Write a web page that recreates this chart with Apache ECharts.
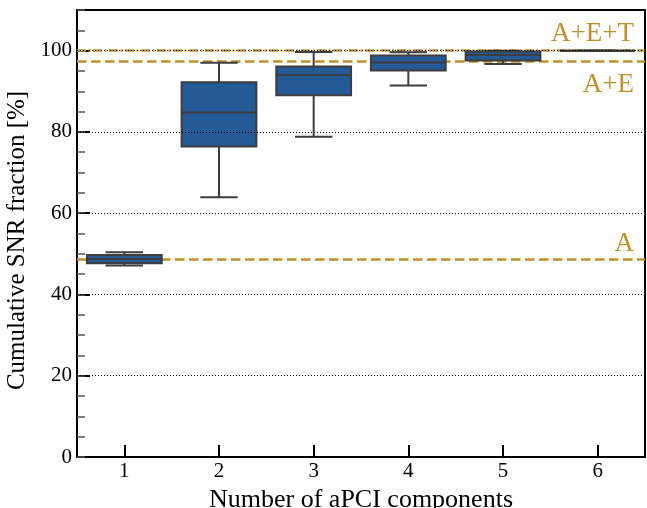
<!DOCTYPE html>
<html>
<head>
<meta charset="utf-8">
<script src="https://cdn.jsdelivr.net/npm/echarts@6/dist/echarts.min.js"></script>
<style>html,body{margin:0;padding:0;background:#fff;}#c{width:647px;height:508px;}</style>
</head>
<body>
<div id="c"></div>
<script>
const categories = ['1', '2', '3', '4', '5', '6'];
const whiskerLow = [47.1, 63.9, 78.8, 91.4, 96.7, 100];
const q1 = [47.7, 76.4, 89.0, 95.1, 97.6, 100];
const median = [48.7, 84.8, 94.0, 97.1, 98.9, 100];
const q3 = [49.7, 92.2, 96.1, 98.8, 99.8, 100];
const whiskerHigh = [50.4, 97.0, 99.65, 99.6, 99.95, 100];
const yTicks = [0, 20, 40, 60, 80, 100];
const refNames = ['A', 'A+E', 'A+E+T'];
const refValues = [48.7, 97.5, 100];

const FONT = '"Liberation Serif", "DejaVu Serif", serif';
const GOLD = '#bf912a';
const BOX_FILL = '#245b97';
const EDGE = '#3d3d3d';

const boxData = categories.map((c, i) => [i, whiskerLow[i], q1[i], median[i], q3[i], whiskerHigh[i]]);

function renderBox(params, api) {
  const x = api.value(0);
  const lo = api.coord([x, api.value(1)]);
  const b1 = api.coord([x, api.value(2)]);
  const md = api.coord([x, api.value(3)]);
  const b3 = api.coord([x, api.value(4)]);
  const hi = api.coord([x, api.value(5)]);
  const band = api.size([1, 0])[0];
  const bw = band * 0.79;
  const cw = bw / 2;
  const cx = lo[0];
  const ls = { stroke: EDGE, lineWidth: 2 };
  return {
    type: 'group',
    children: [
      { type: 'line', shape: { x1: cx, y1: lo[1], x2: cx, y2: b1[1] }, style: ls },
      { type: 'line', shape: { x1: cx, y1: b3[1], x2: cx, y2: hi[1] }, style: ls },
      { type: 'line', shape: { x1: cx - cw / 2, y1: lo[1], x2: cx + cw / 2, y2: lo[1] }, style: ls },
      { type: 'line', shape: { x1: cx - cw / 2, y1: hi[1], x2: cx + cw / 2, y2: hi[1] }, style: ls },
      { type: 'rect', shape: { x: cx - bw / 2, y: b3[1], width: bw, height: b1[1] - b3[1] },
        style: { fill: BOX_FILL, stroke: EDGE, lineWidth: 2 } },
      { type: 'line', shape: { x1: cx - bw / 2, y1: md[1], x2: cx + bw / 2, y2: md[1] }, style: ls }
    ]
  };
}

const labelPos = ['insideEndTop', 'insideEndBottom', 'insideEndTop'];
const labelDist = [[11, 2], [11, 11], [11, 3]];
const lineTypes = [[9.5, 4.5], [9.5, 4.5], [9, 2.5, 2, 2.5]];

const chart = echarts.init(document.getElementById('c'), null, { renderer: 'canvas' });
chart.setOption({
  animation: false,
  backgroundColor: '#fff',
  grid: { left: 77, right: 2, top: 10, bottom: 51, show: true, borderColor: '#000', borderWidth: 2,
    backgroundColor: 'transparent', containLabel: false, outerBoundsMode: 'none' },
  xAxis: {
    type: 'category',
    data: categories,
    boundaryGap: true,
    name: 'Number of aPCI components',
    nameLocation: 'middle',
    nameGap: 30,
    nameTextStyle: { fontFamily: FONT, fontSize: 26, color: '#000' },
    axisLine: { show: true, lineStyle: { color: '#000', width: 2 } },
    axisTick: { show: true, inside: true, alignWithLabel: true, length: 12, lineStyle: { color: '#000', width: 2 } },
    axisLabel: { fontFamily: FONT, fontSize: 21, color: '#000', margin: 4 },
    splitLine: { show: false }
  },
  yAxis: [{
    type: 'value',
    min: 0, max: 110, interval: 20,
    position: 'left',
    name: 'Cumulative SNR fraction [%]',
    nameLocation: 'middle',
    nameRotate: 90,
    nameGap: 39,
    nameTextStyle: { fontFamily: FONT, fontSize: 25, color: '#000', padding: [0, 14, 0, 0] },
    axisLine: { show: true, lineStyle: { color: '#000', width: 2 } },
    axisTick: { show: true, inside: true, length: 13, lineStyle: { color: '#000', width: 2 } },
    axisLabel: { fontFamily: FONT, fontSize: 21, color: '#000', margin: 5, showMaxLabel: false,
      formatter: v => (yTicks.indexOf(v) >= 0 ? String(v) : '') },
    splitLine: { show: false }
  }, {
    type: 'value',
    min: 0, max: 110, interval: 5,
    position: 'left',
    axisLine: { show: false },
    axisLabel: { show: false },
    splitLine: { show: false },
    axisTick: { show: true, inside: true, length: 8, lineStyle: { color: '#555', width: 1.5 } }
  }],
  series: [{
    type: 'line',
    data: [],
    z: 1,
    markLine: {
      z: 1,
      silent: true,
      symbol: 'none',
      animation: false,
      data: refValues.map((v, i) => ({
        yAxis: v,
        name: refNames[i],
        lineStyle: { color: GOLD, width: 2.5, type: lineTypes[i] },
        label: { show: true, position: labelPos[i], formatter: refNames[i], color: GOLD,
          fontFamily: FONT, fontSize: 27, distance: labelDist[i] }
      }))
    }
  }, {
    type: 'custom',
    renderItem: renderBox,
    data: boxData,
    encode: { x: 0, y: [1, 2, 3, 4, 5] },
    z: 2
  }, {
    type: 'line',
    data: [],
    z: 4,
    markLine: {
      z: 4,
      silent: true,
      symbol: 'none',
      animation: false,
      label: { show: false },
      lineStyle: { color: '#000', width: 1, type: [1, 2] },
      data: yTicks.filter(v => v > 0).map(v => ({ yAxis: v }))
    }
  }]
});
</script>
</body>
</html>
